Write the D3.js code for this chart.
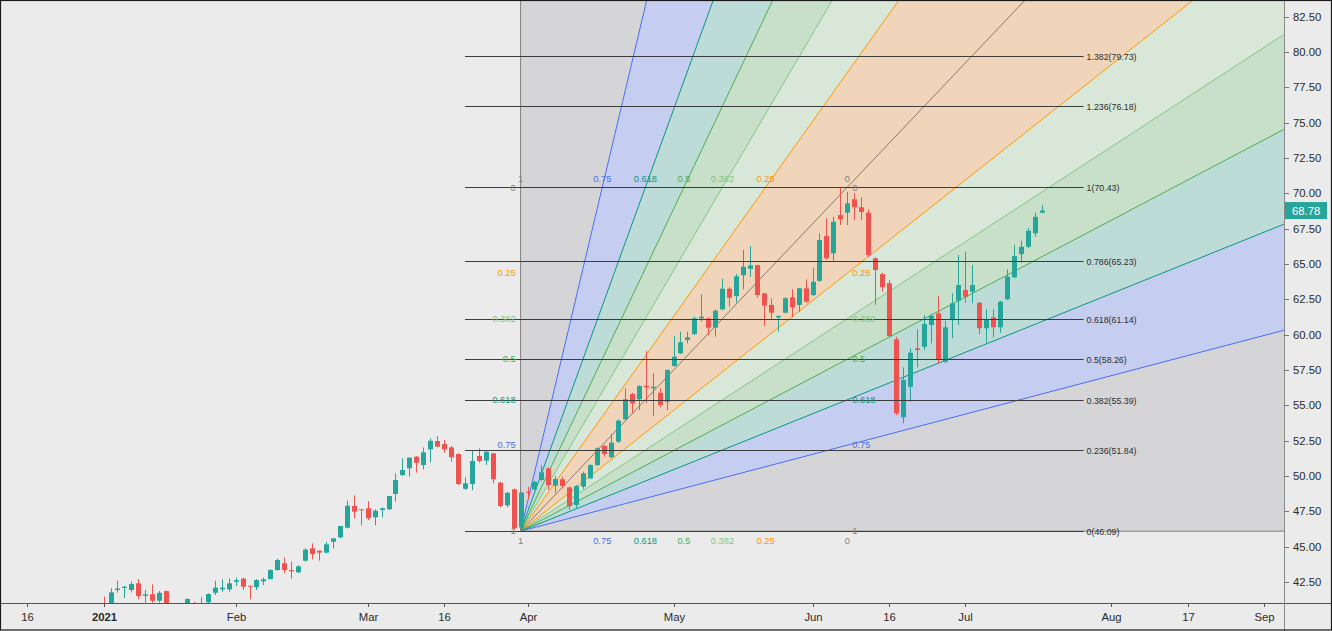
<!DOCTYPE html>
<html><head><meta charset="utf-8">
<script src="https://cdn.jsdelivr.net/npm/d3@7/dist/d3.min.js"></script>
<style>body{margin:0;background:#ebebeb;} svg{display:block;}</style>
</head><body>
<svg id="chart" width="1332" height="631"></svg>
<script>
// ---------------- DATA ----------------
const startDate = "2021-01-04";
const holidays = ["2020-12-25","2021-01-01","2021-01-18","2021-02-15","2021-04-02","2021-05-31","2021-07-05","2021-09-06"];
const opens  = [40.9,40.7,41.93,42.07,41.93,42.40,41.52,41.62,41.17,41.85,40.8,40.5,40.8,41.0,40.6,41.06,41.73,41.97,41.97,
  42.51,42.73,42.23,42.12,42.54,42.70,43.34,43.82,43.34,43.18,44.0,44.88,44.71,44.57,45.34,45.65,46.33,47.87,47.64,
  47.71,47.07,47.59,47.64,48.72,50.06,50.54,51.36,50.77,51.88,52.47,52.26,52.02,51.55,49.09,49.43,51.41,51.08,51.60,49.52,47.92,49.05,46.36,
  48.88,49.05,49.71,50.54,49.31,49.76,49.19,47.94,49.24,49.83,50.77,52.12,51.32,52.42,54.01,55.80,55.42,56.38,56.20,55.89,55.25,
  57.78,58.68,59.62,60.04,61.15,61.15,60.49,61.79,63.25,62.73,64.20,64.66,64.92,62.92,62.10,61.22,61.55,62.64,62.10,63.28,
  62.80,63.81,66.98,65.75,68.46,68.63,69.58,69.01,68.63,65.40,64.29,63.63,59.67,54.15,56.31,59.03,59.14,60.68,61.51,58.08,61.03,62.40,
  63.16,63.04,62.26,60.45,61.22,60.52,62.50,64.06,65.70,66.22,67.17,68.63];
const highs  = [41.45,42.05,42.58,42.21,42.51,42.70,41.93,42.33,41.85,41.9,40.95,40.9,41.35,41.1,41.41,41.69,42.58,42.68,42.75,
  42.80,42.80,42.23,42.70,42.80,43.41,44.14,44.24,43.93,43.69,44.88,45.23,44.71,45.34,45.6,46.46,48.25,48.63,47.64,
  48.22,47.64,47.78,48.58,50.18,51.25,51.32,51.4,52.02,52.66,52.82,52.54,52.12,51.6,49.90,51.76,51.95,51.78,51.64,49.59,48.88,49.12,48.88,
  49.24,49.66,50.77,50.61,49.99,49.94,49.24,49.36,50.30,50.84,52.02,52.19,52.97,54.01,56.20,55.89,56.43,58.86,57.26,56.20,57.54,
  59.90,60.21,60.21,61.27,62.87,61.20,61.79,63.96,63.35,64.29,65.99,66.27,64.95,62.96,62.57,61.35,62.66,63.21,63.30,63.91,
  64.73,67.17,68.23,68.34,70.43,70.1,70.04,69.72,68.87,65.47,64.38,63.86,59.85,57.69,59.03,60.38,61.39,61.46,62.73,60.98,62.92,65.63,
  65.87,64.93,62.3,61.79,61.79,62.40,64.62,66.34,66.65,67.54,68.63,69.17];
const lows   = [40.2,40.5,41.74,41.36,41.76,41.27,41.03,41.03,41.03,40.6,40.3,40.2,40.7,40.4,40.3,40.9,41.57,41.81,41.81,
  42.21,41.93,41.27,41.93,42.28,42.68,43.29,43.11,42.73,43.11,43.93,44.10,44.0,44.52,44.88,45.58,46.29,47.0,46.50,
  46.88,46.50,47.07,47.59,48.18,49.99,49.94,50.23,50.47,50.96,52.03,51.64,51.01,49.36,49.0,49.0,50.94,50.77,49.48,47.78,47.78,46.17,46.09,
  48.34,49.0,49.66,49.0,48.81,49.12,47.59,47.73,49.07,49.76,50.70,51.36,51.25,52.35,53.96,54.47,54.66,55.14,54.24,54.86,54.66,
  57.73,58.63,59.38,59.97,60.91,59.97,59.85,61.74,61.98,62.26,63.21,64.10,62.59,60.61,61.08,60.21,61.51,61.22,61.63,62.26,
  62.73,63.74,65.28,65.14,67.76,67.76,68.1,68.11,65.47,62.10,63.04,59.85,54.31,53.72,55.25,57.69,58.91,59.38,57.97,57.97,59.74,60.68,
  62.26,62.22,60.04,59.43,59.81,60.13,62.45,63.98,65.09,66.13,66.93,68.58];
const closes = [40.4,41.76,42.03,42.16,42.35,41.50,41.62,41.17,41.73,40.8,40.5,40.7,41.29,40.7,40.95,41.64,42.09,42.09,42.40,
  42.63,42.16,42.19,42.63,42.68,43.34,44.05,43.34,43.25,43.60,44.78,44.47,44.57,45.16,45.58,46.46,47.89,47.47,47.57,
  47.0,47.54,47.71,48.58,49.71,50.42,51.29,50.93,51.67,52.49,52.07,51.88,51.32,49.43,49.48,51.06,51.06,51.71,49.76,47.87,48.81,46.29,48.81,
  48.81,49.59,50.26,49.36,49.78,49.29,47.87,49.29,50.18,50.77,51.95,51.55,52.35,53.91,55.42,55.14,56.36,56.27,56.31,55.02,57.50,
  58.44,59.46,59.81,61.15,61.27,60.49,61.69,63.25,62.61,64.13,64.81,64.90,62.80,62.05,61.55,61.32,62.57,61.93,63.28,62.33,
  63.74,66.70,65.40,67.99,68.16,69.29,69.01,68.68,65.63,64.57,63.35,59.90,54.43,56.79,58.72,58.91,60.75,61.32,58.20,60.52,62.22,63.51,
  62.68,63.51,60.45,61.08,60.52,62.33,64.10,65.56,66.22,67.35,68.34,68.78];
const lastPrice = 68.78;

const xTickDates  = ["2020-12-16","2021-01-04","2021-02-01","2021-03-01","2021-03-16","2021-04-01","2021-05-03","2021-06-01","2021-06-16","2021-07-01","2021-08-02","2021-08-17","2021-09-01"];
const xTickLabels = ["16","2021","Feb","Mar","16","Apr","May","Jun","16","Jul","Aug","17","Sep"];
const yTicks = [42.5,45,47.5,50,52.5,55,57.5,60,62.5,65,67.5,70,72.5,75,77.5,80,82.5];

// Fib speed resistance fan
const fanDates  = ["2021-03-31","2021-06-08"];
const fanPrices = [46.09, 70.43];
const fanLevels = [0.25, 0.382, 0.5, 0.618, 0.75];
const fanLabels = ["0.25","0.382","0.5","0.618","0.75"];
const fanLineColors = ["#ff9800","#81c784","#4caf50","#089981","#4b6ff2"];
const fanFillColors = ["#f0d5bb","#d9e7d8","#c8e0c9","#bddbd7","#c5cdf0"];
const fanEdgeColor = "#808080";
const fanQuadFill = "#d5d5d7";

// Fib retracement
const retrDates  = ["2021-03-19","2021-07-27"];
const retrPrices = [46.09,51.84,55.39,58.26,61.14,65.23,70.43,76.18,79.73];
const retrLabels = ["0(46.09)","0.236(51.84)","0.382(55.39)","0.5(58.26)","0.618(61.14)","0.786(65.23)","1(70.43)","1.236(76.18)","1.382(79.73)"];

// ---------------- CHART ----------------
const W = 1332, H = 631, plotR = 1284, plotB = 603;
const FONT = "'Liberation Sans', Arial, sans-serif";
const UP = "#26a69a", DOWN = "#ef5350";

const cal = [];
for (let d = new Date(Date.UTC(2020,11,1)); d <= new Date(Date.UTC(2021,8,30)); d.setUTCDate(d.getUTCDate()+1)) {
  const wd = d.getUTCDay(), s = d.toISOString().slice(0,10);
  if (wd === 0 || wd === 6 || holidays.includes(s)) continue;
  cal.push(s);
}
const idx = s => cal.indexOf(s);

const x = d3.scaleLinear().domain([idx("2020-12-16"), idx("2021-09-01")]).range([27.1, 1264.3]);
const y = d3.scaleLinear().domain([42.5, 82.5]).range([581.9, 16.7]);

const svg = d3.select("#chart");
svg.append("rect").attr("width", W).attr("height", H).attr("fill", "#ebebeb");

const defs = svg.append("defs");
defs.append("clipPath").attr("id","plot").append("rect").attr("x",0).attr("y",0).attr("width",plotR).attr("height",plotB);
const plot = svg.append("g").attr("clip-path","url(#plot)");

// fan geometry
const xA = x(idx(fanDates[0])), yA = y(fanPrices[0]);
const xB = x(idx(fanDates[1])), yB = y(fanPrices[1]);
const upperPt = l => [xB - l*(xB-xA), yB];
const lowerPt = l => [xB, y(fanPrices[1] - l*(fanPrices[1]-fanPrices[0]))];
const far = (p, k=40) => [xA + (p[0]-xA)*k, yA + (p[1]-yA)*k];

plot.append("rect").attr("x", xA).attr("y", 0).attr("width", plotR - xA).attr("height", yA).attr("fill", fanQuadFill);
const order = d3.range(fanLevels.length).reverse();
order.forEach(j => {
  const l = fanLevels[j];
  plot.append("path")
    .attr("d", d3.line()([[xA,yA], far(upperPt(l)), far(lowerPt(l))]) + "Z")
    .attr("fill", fanFillColors[j]);
});
// fan lines
fanLevels.forEach((l,j) => {
  [upperPt(l), lowerPt(l)].forEach(p => {
    plot.append("line").attr("x1",xA).attr("y1",yA).attr("x2",far(p)[0]).attr("y2",far(p)[1])
      .attr("stroke", fanLineColors[j]).attr("stroke-width",1);
  });
});
plot.append("line").attr("x1",xA).attr("y1",yA).attr("x2",far([xB,yB])[0]).attr("y2",far([xB,yB])[1])
  .attr("stroke", "#85796f").attr("stroke-width",1);
plot.append("line").attr("x1",xA).attr("y1",yA).attr("x2",xA).attr("y2",-10).attr("stroke",fanEdgeColor).attr("stroke-width",1);
plot.append("line").attr("x1",xA).attr("y1",yA).attr("x2",plotR+10).attr("y2",yA).attr("stroke",fanEdgeColor).attr("stroke-width",1);

// candles
const candles = opens.map((o,k) => ({i: idx(startDate)+k, o, h: highs[k], l: lows[k], c: closes[k]}));
const cg = plot.append("g");
candles.forEach(d => {
  const cx = Math.round(x(d.i)) + 0.5;
  const col = d.c >= d.o ? UP : DOWN;
  cg.append("line").attr("x1",cx).attr("x2",cx).attr("y1",y(d.h)).attr("y2",y(d.l)).attr("stroke",col).attr("stroke-width",1);
  const top = y(Math.max(d.o,d.c)), bot = y(Math.min(d.o,d.c));
  cg.append("rect").attr("x", cx-2.5).attr("y", top).attr("width",5).attr("height", Math.max(1, bot-top)).attr("fill", col);
});

// retracement lines
const rx1 = x(idx(retrDates[0])), rx2 = x(idx(retrDates[1]));
retrPrices.forEach((p,k) => {
  const yy = Math.round(y(p)) + 0.5;
  plot.append("line").attr("x1",rx1).attr("x2",rx2).attr("y1",yy).attr("y2",yy).attr("stroke","#3c3c3c").attr("stroke-width",1);
  svg.append("text").attr("x", rx2+3).attr("y", yy).attr("dy","0.35em")
    .attr("font-family",FONT).attr("font-size","8.8px").attr("fill","#2e2e2e").text(retrLabels[k]);
});

// fan labels
const allLv = [0].concat(fanLevels).concat([1]);
const allLab = ["0"].concat(fanLabels).concat(["1"]);
const allCol = [fanEdgeColor].concat(fanLineColors).concat([fanEdgeColor]);
const lblG = svg.append("g").attr("font-family",FONT).attr("font-size","9.3px");
allLv.forEach((l,j) => {
  const ux = xB - l*(xB-xA);
  lblG.append("text").attr("x",ux).attr("y",yB-9).attr("dy","0.35em").attr("text-anchor","middle").attr("fill",allCol[j]).text(allLab[j]);
  lblG.append("text").attr("x",ux).attr("y",yA+10).attr("dy","0.35em").attr("text-anchor","middle").attr("fill",allCol[j]).text(allLab[j]);
  const ly = y(fanPrices[1] - l*(fanPrices[1]-fanPrices[0]));
  lblG.append("text").attr("x",xA-5).attr("y",ly).attr("dy","0.35em").attr("text-anchor","end").attr("fill",allCol[j]).text(allLab[j]);
  lblG.append("text").attr("x",xB+5).attr("y",ly).attr("dy","0.35em").attr("text-anchor","start").attr("fill",allCol[j]).text(allLab[j]);
});

// axes
const axG = svg.append("g").attr("font-family",FONT).attr("font-size","11.3px").attr("fill","#2a2a2a");
svg.append("line").attr("x1",0).attr("x2",W).attr("y1",plotB+0.5).attr("y2",plotB+0.5).attr("stroke","#555").attr("stroke-width",1);
svg.append("line").attr("x1",plotR+0.5).attr("x2",plotR+0.5).attr("y1",0).attr("y2",H).attr("stroke","#8a8a8a").attr("stroke-width",1);
yTicks.forEach(t => {
  const yy = Math.round(y(t)) + 0.5;
  svg.append("line").attr("x1",plotR).attr("x2",plotR+5).attr("y1",yy).attr("y2",yy).attr("stroke","#777");
  axG.append("text").attr("x",plotR+9).attr("y",yy).attr("dy","0.35em").text(d3.format(".2f")(t));
});
xTickDates.forEach((dt,k) => {
  const xx = Math.round(x(idx(dt))) + 0.5;
  svg.append("line").attr("x1",xx).attr("x2",xx).attr("y1",plotB).attr("y2",plotB+4).attr("stroke","#555");
  axG.append("text").attr("x",xx).attr("y",617).attr("dy","0.35em").attr("text-anchor","middle")
    .attr("font-weight", xTickLabels[k]==="2021" ? "bold" : "normal").text(xTickLabels[k]);
});

// last price label
const ly = y(lastPrice);
svg.append("rect").attr("x",plotR+1).attr("y",ly-8.5).attr("width",42).attr("height",17).attr("fill",UP);
svg.append("text").attr("x",plotR+8).attr("y",ly).attr("dy","0.35em").attr("font-family",FONT).attr("font-size","11.3px")
  .attr("fill","#ffffff").text(d3.format(".2f")(lastPrice));

// frame
svg.append("rect").attr("x",0.5).attr("y",0.5).attr("width",W-1).attr("height",H-1.5).attr("fill","none").attr("stroke","#1a1a1a").attr("stroke-width",1.2);
</script>
</body></html>
